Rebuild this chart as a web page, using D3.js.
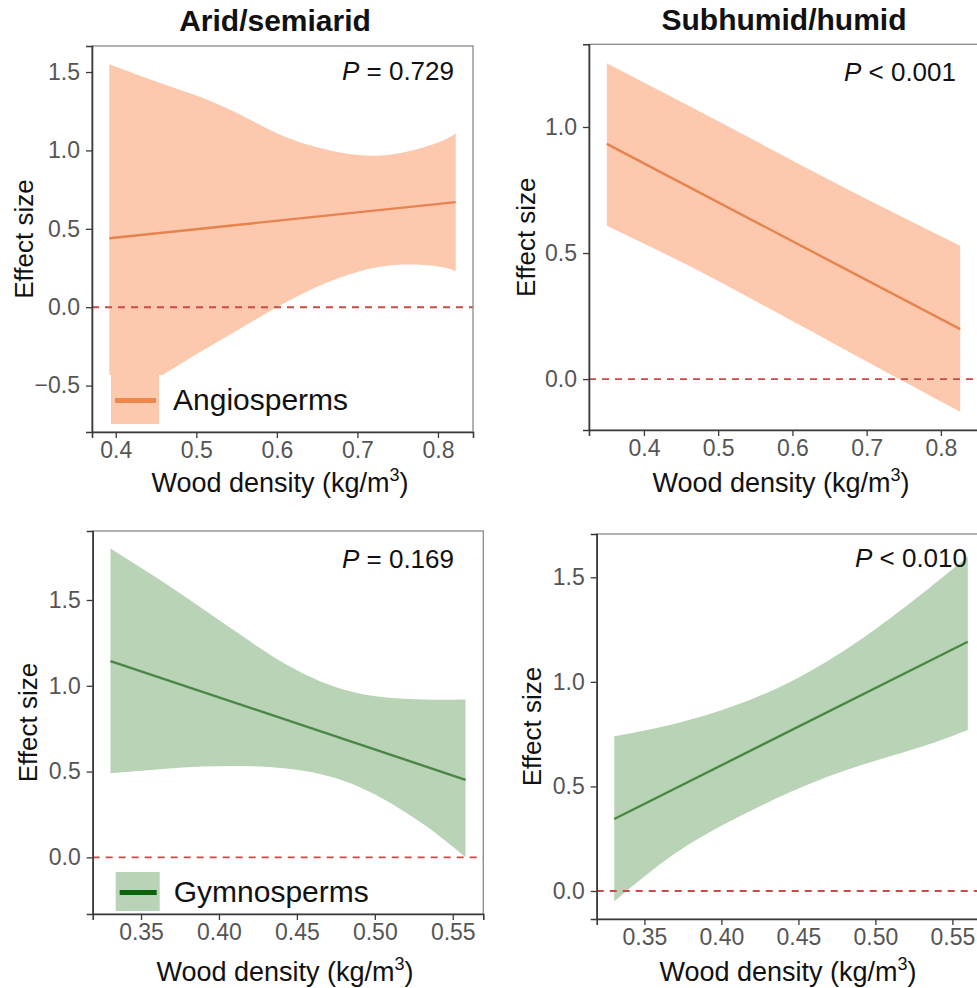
<!DOCTYPE html>
<html>
<head>
<meta charset="utf-8">
<script src="https://cdn.jsdelivr.net/npm/d3@7"></script>
<style>
  body { margin: 0; background: #fff; }
  text { font-family: "Liberation Sans", Arial, sans-serif; }
</style>
</head>
<body>
<div id="chart"></div>
<script>
// values

// Arid/semiarid - Angiosperms
var aridAngioX     = [0.392, 0.45, 0.5, 0.55, 0.6, 0.65, 0.7, 0.75, 0.8, 0.822];
var aridAngioUpper = [1.55, 1.44, 1.35, 1.24, 1.11, 1.02, 0.97, 0.98, 1.05, 1.11];
var aridAngioLower = [-0.66, -0.46, -0.30, -0.15, 0.0, 0.13, 0.225, 0.27, 0.26, 0.23];
var aridAngioFitX  = [0.392, 0.822];
var aridAngioFitY  = [0.44, 0.67];

// Subhumid/humid - Angiosperms
var humidAngioX     = [0.35, 0.45, 0.55, 0.65, 0.75, 0.826];
var humidAngioUpper = [1.253, 1.10, 0.945, 0.79, 0.64, 0.529];
var humidAngioLower = [0.608, 0.465, 0.31, 0.15, -0.01, -0.13];
var humidAngioFitX  = [0.35, 0.826];
var humidAngioFitY  = [0.933, 0.198];

// Arid/semiarid - Gymnosperms
var aridGymnoX     = [0.3304, 0.37, 0.41, 0.45, 0.49, 0.53, 0.5582];
var aridGymnoUpper = [1.80, 1.57, 1.32, 1.09, 0.955, 0.92, 0.92];
var aridGymnoLower = [0.49, 0.52, 0.533, 0.51, 0.41, 0.20, 0.0];
var aridGymnoFitX  = [0.3304, 0.5582];
var aridGymnoFitY  = [1.144, 0.452];

// Subhumid/humid - Gymnosperms
var humidGymnoX     = [0.3304, 0.37, 0.41, 0.45, 0.49, 0.53, 0.56];
var humidGymnoUpper = [0.74, 0.80, 0.89, 1.02, 1.20, 1.42, 1.60];
var humidGymnoLower = [-0.05, 0.18, 0.35, 0.49, 0.60, 0.69, 0.77];
var humidGymnoFitX  = [0.3304, 0.56];
var humidGymnoFitY  = [0.344, 1.192];

var angioXTicks = [0.4, 0.5, 0.6, 0.7, 0.8];
var gymnoXTicks = [0.35, 0.40, 0.45, 0.50, 0.55];
var aridAngioYTicks  = [-0.5, 0.0, 0.5, 1.0, 1.5];
var humidAngioYTicks = [0.0, 0.5, 1.0];
var aridGymnoYTicks  = [0.0, 0.5, 1.0, 1.5];
var humidGymnoYTicks = [0.0, 0.5, 1.0, 1.5];

var columnTitles = ["Arid/semiarid", "Subhumid/humid"];
var pLabels = [["=", "0.729"], ["<", "0.001"], ["=", "0.169"], ["<", "0.010"]];
var groupNames = ["Angiosperms", "Gymnosperms"];

var W = 977, H = 988;

var svg = d3.select("#chart").append("svg")
  .attr("width", W)
  .attr("height", H);

var colors = {
  angio: { band: "#fcc9ae", line: "#e6834f", key: "#f0874a" },
  gymno: { band: "#b9d3b6", line: "#4a8745", key: "#0a640a" }
};

function zip(xs, a, b) {
  var out = [];
  for (var i = 0; i < xs.length; i++) out.push({ x: xs[i], hi: a[i], lo: b[i] });
  return out;
}

function drawPanel(p) {
  var x = d3.scaleLinear().domain(p.xDomain).range([p.left, p.right]);
  var y = d3.scaleLinear().domain(p.yDomain).range([p.bottom, p.top]);
  var c = colors[p.group];

  var clipId = "clip" + p.id;
  svg.append("clipPath").attr("id", clipId)
    .append("rect")
    .attr("x", p.left).attr("y", p.top)
    .attr("width", p.right - p.left).attr("height", p.bottom - p.top);

  var g = svg.append("g").attr("clip-path", "url(#" + clipId + ")");

  // confidence band
  var area = d3.area()
    .x(function(d) { return x(d.x); })
    .y0(function(d) { return y(d.lo); })
    .y1(function(d) { return y(d.hi); })
    .curve(d3.curveNatural);

  g.append("path")
    .datum(zip(p.bandX, p.upper, p.lower))
    .attr("d", area)
    .attr("fill", c.band);

  // fitted line
  var line = d3.line()
    .x(function(d) { return x(d[0]); })
    .y(function(d) { return y(d[1]); });

  g.append("path")
    .datum(d3.zip(p.fitX, p.fitY))
    .attr("d", line)
    .attr("fill", "none")
    .attr("stroke", c.line)
    .attr("stroke-width", 2.4);

  // zero reference
  g.append("line")
    .attr("x1", p.left).attr("x2", p.right)
    .attr("y1", y(0)).attr("y2", y(0))
    .attr("stroke", "#cc4a45")
    .attr("stroke-width", 1.9)
    .attr("stroke-dasharray", "7,6");

  // legend
  if (p.legend) {
    var lx = p.left + p.legend.dx, ly = p.legend.top;
    g.append("rect")
      .attr("x", lx - 8).attr("y", ly)
      .attr("width", 260).attr("height", p.bottom - ly)
      .attr("fill", "#fff");
    g.append("rect")
      .attr("x", lx).attr("y", ly)
      .attr("width", p.legend.w).attr("height", p.legend.h)
      .attr("fill", c.band);
    g.append("line")
      .attr("x1", lx + 4).attr("x2", lx + p.legend.w - 3)
      .attr("y1", ly + p.legend.h / 2 + 1).attr("y2", ly + p.legend.h / 2 + 1)
      .attr("stroke", c.key)
      .attr("stroke-width", 5);
    g.append("text")
      .attr("x", lx + p.legend.w + 14)
      .attr("y", ly + p.legend.h / 2 + 10)
      .attr("font-size", 30)
      .attr("fill", "#111")
      .text(p.legend.label);
  }

  // P value
  var pt = svg.append("text")
    .attr("x", p.pX).attr("y", p.pY)
    .attr("text-anchor", "end")
    .attr("font-size", 26)
    .attr("fill", "#111");
  pt.append("tspan").attr("font-style", "italic").text("P");
  pt.append("tspan").text(" " + p.pText[0] + " " + p.pText[1]);

  // frame
  svg.append("rect")
    .attr("x", p.left).attr("y", p.top)
    .attr("width", p.right - p.left).attr("height", p.bottom - p.top)
    .attr("fill", "none")
    .attr("stroke", "#8a8a8a")
    .attr("stroke-width", 1.3);

  // axes
  var fmtX = d3.format(p.xFormat), fmtY = d3.format(".1f");

  var xAxis = svg.append("g")
    .attr("transform", "translate(0," + p.bottom + ")")
    .call(d3.axisBottom(x).tickValues(p.xTicks).tickFormat(fmtX).tickSizeOuter(0).tickSize(6).tickPadding(4));

  var yAxis = svg.append("g")
    .attr("transform", "translate(" + p.left + ",0)")
    .call(d3.axisLeft(y).tickValues(p.yTicks).tickFormat(fmtY).tickSizeOuter(0).tickSize(6).tickPadding(6));

  [xAxis, yAxis].forEach(function(a) {
    a.attr("font-size", 23);
    a.select(".domain").attr("stroke", "#3a3a3a").attr("stroke-width", 1.6);
    a.selectAll(".tick line").attr("stroke", "#3a3a3a").attr("stroke-width", 1.3);
    a.selectAll(".tick text")
      .attr("fill", "#555")
      .style("font-family", "'Liberation Sans', Arial, sans-serif");
  });

  // axis titles
  var xt = svg.append("text")
    .attr("x", p.xTitleX).attr("y", p.xTitleY)
    .attr("text-anchor", "middle")
    .attr("font-size", 27)
    .attr("fill", "#111");
  xt.append("tspan").text("Wood density (kg/m");
  xt.append("tspan").attr("font-size", 18).attr("dy", -11).text("3");
  xt.append("tspan").attr("dy", 11).text(")");

  svg.append("text")
    .attr("transform", "translate(" + p.yTitleX + "," + ((p.top + p.bottom) / 2) + ") rotate(-90)")
    .attr("text-anchor", "middle")
    .attr("font-size", 26)
    .attr("fill", "#111")
    .text("Effect size");
}

var panels = [
  { id: 1, group: "angio", left: 92, right: 473, top: 46, bottom: 432,
    xDomain: [0.3705, 0.8435], yDomain: [-0.796, 1.666],
    bandX: aridAngioX, upper: aridAngioUpper, lower: aridAngioLower,
    fitX: aridAngioFitX, fitY: aridAngioFitY,
    xTicks: angioXTicks, yTicks: aridAngioYTicks, xFormat: ".1f",
    pText: pLabels[0], pX: 454, pY: 80,
    xTitleX: 280, xTitleY: 492, yTitleX: 33,
    legend: { dx: 19, top: 375, w: 48, h: 49, label: groupNames[0] } },
  { id: 2, group: "angio", left: 589, right: 978, top: 44.3, bottom: 430,
    xDomain: [0.326, 0.85], yDomain: [-0.202, 1.328],
    bandX: humidAngioX, upper: humidAngioUpper, lower: humidAngioLower,
    fitX: humidAngioFitX, fitY: humidAngioFitY,
    xTicks: angioXTicks, yTicks: humidAngioYTicks, xFormat: ".1f",
    pText: pLabels[1], pX: 956, pY: 81,
    xTitleX: 781, xTitleY: 492, yTitleX: 535 },
  { id: 3, group: "gymno", left: 92.7, right: 483.3, top: 531, bottom: 914,
    xDomain: [0.319, 0.5696], yDomain: [-0.33, 1.902],
    bandX: aridGymnoX, upper: aridGymnoUpper, lower: aridGymnoLower,
    fitX: aridGymnoFitX, fitY: aridGymnoFitY,
    xTicks: gymnoXTicks, yTicks: aridGymnoYTicks, xFormat: ".2f",
    pText: pLabels[2], pX: 454, pY: 568,
    xTitleX: 285, xTitleY: 981, yTitleX: 37,
    legend: { dx: 23, top: 872, w: 44, h: 39, label: groupNames[1] } },
  { id: 4, group: "gymno", left: 596.7, right: 985.5, top: 534, bottom: 919,
    xDomain: [0.319, 0.5715], yDomain: [-0.134, 1.707],
    bandX: humidGymnoX, upper: humidGymnoUpper, lower: humidGymnoLower,
    fitX: humidGymnoFitX, fitY: humidGymnoFitY,
    xTicks: gymnoXTicks, yTicks: humidGymnoYTicks, xFormat: ".2f",
    pText: pLabels[3], pX: 967, pY: 567,
    xTitleX: 788, xTitleY: 981, yTitleX: 541 }
];

panels.forEach(drawPanel);

// column titles
svg.append("text")
  .attr("x", 275).attr("y", 31)
  .attr("text-anchor", "middle")
  .attr("font-size", 30).attr("font-weight", "bold")
  .attr("fill", "#111")
  .text(columnTitles[0]);

svg.append("text")
  .attr("x", 784).attr("y", 30)
  .attr("text-anchor", "middle")
  .attr("font-size", 30).attr("font-weight", "bold")
  .attr("fill", "#111")
  .text(columnTitles[1]);
</script>
</body>
</html>
